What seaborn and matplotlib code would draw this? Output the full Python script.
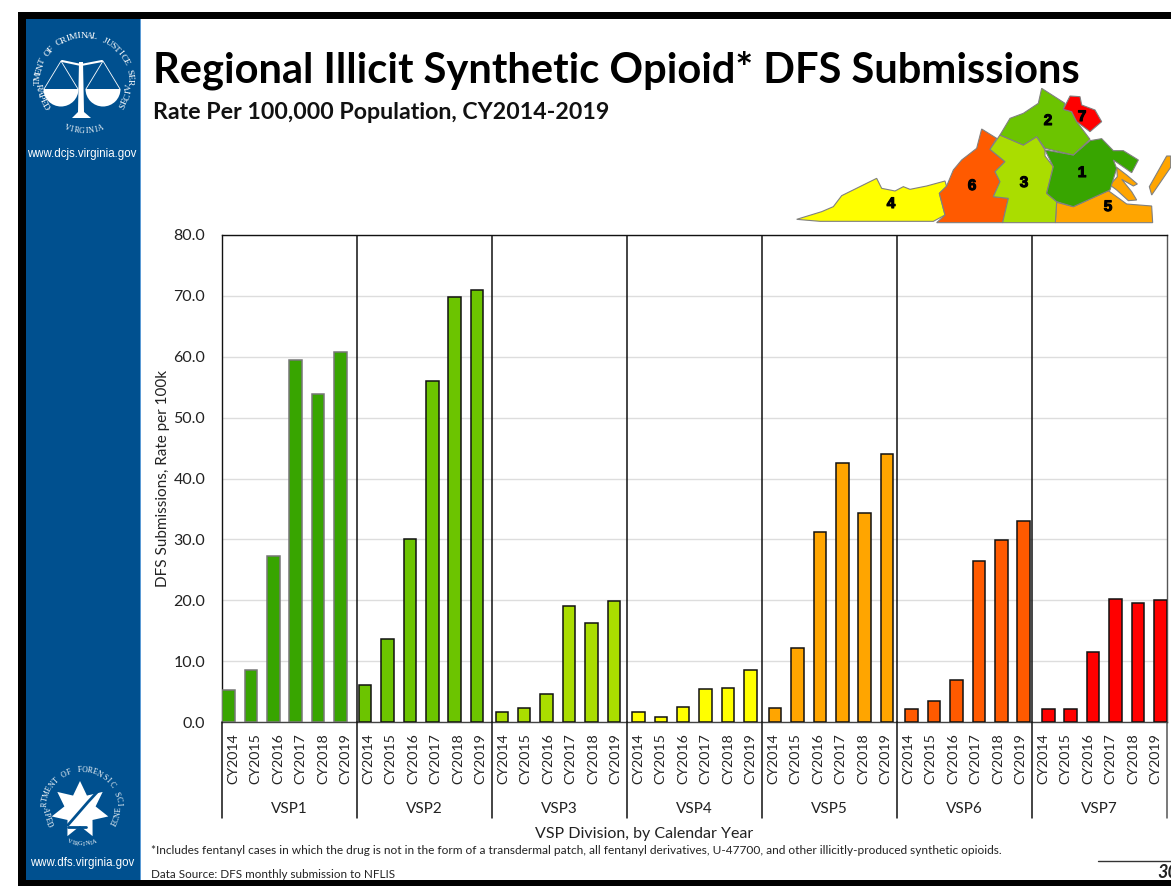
import numpy as np
import pandas as pd
import seaborn as sns
import matplotlib.pyplot as plt
import matplotlib.patheffects as pe
from matplotlib.patches import Polygon, Rectangle, Wedge

# Values
divisions = ["VSP1", "VSP2", "VSP3", "VSP4", "VSP5", "VSP6", "VSP7"]
years = ["CY2014", "CY2015", "CY2016", "CY2017", "CY2018", "CY2019"]
vsp1 = [5.2, 8.5, 27.3, 59.5, 53.8, 60.7]
vsp2 = [6.0, 13.6, 30.1, 56.0, 69.8, 71.0]
vsp3 = [1.6, 2.3, 4.6, 19.1, 16.3, 19.8]
vsp4 = [1.6, 0.9, 2.5, 5.5, 5.6, 8.5]
vsp5 = [2.3, 12.2, 31.2, 42.5, 34.4, 44.1]
vsp6 = [2.1, 3.4, 6.9, 26.4, 29.9, 33.1]
vsp7 = [2.1, 2.1, 11.5, 20.2, 19.6, 20.0]
colors = ["#38A500", "#6CC400", "#AADD00", "#FFFF00", "#FFA500", "#FF5A00", "#FF0000"]
yticks = [0, 10, 20, 30, 40, 50, 60, 70, 80]

# Map inset outlines, in zoomed crop pixels
map_4 = [(50, 418), (125, 395), (160, 380), (185, 347), (290, 295), (305, 325), (345, 333), (370, 320),
         (390, 328), (440, 318), (495, 303), (500, 320), (478, 340), (495, 405), (460, 424), (120, 424)]
map_6 = [(605, 147), (650, 175), (630, 208), (675, 245), (645, 275), (660, 305), (640, 350), (685, 355),
         (668, 428), (470, 428), (495, 405), (478, 340), (500, 318), (520, 270), (545, 240), (590, 205)]
map_3 = [(660, 165), (730, 195), (770, 170), (795, 210), (795, 228), (820, 260), (800, 340), (830, 365),
         (826, 428), (668, 428), (685, 355), (640, 350), (660, 305), (645, 275), (675, 245), (630, 208)]
map_2 = [(785, 25), (855, 70), (850, 88), (875, 95), (890, 125), (930, 178), (880, 225), (795, 205),
         (770, 170), (730, 195), (660, 165), (690, 115), (730, 100), (775, 70)]
map_7 = [(870, 48), (900, 50), (905, 75), (945, 90), (965, 125), (930, 155), (890, 125), (875, 95), (850, 88)]
map_1 = [(930, 182), (965, 176), (1000, 212), (1030, 212), (1075, 240), (1055, 278), (1000, 240), (1010, 265),
         (990, 330), (880, 380), (830, 365), (800, 340), (820, 260), (795, 210), (880, 225)]
map_5 = [(830, 367), (880, 380), (985, 332), (1040, 372), (1115, 378), (1118, 428), (826, 428)]
map_5b = [(1010, 262), (1040, 285), (1072, 312), (1060, 318), (1025, 298), (1055, 335), (1070, 360), (1045, 362),
          (1010, 330), (990, 315), (1012, 290)]
map_5c = [(1160, 228), (1172, 228), (1172, 262), (1115, 345), (1108, 320)]

df = pd.DataFrame({
    "division": np.repeat(divisions, len(years)),
    "year": years * len(divisions),
    "rate": vsp1 + vsp2 + vsp3 + vsp4 + vsp5 + vsp6 + vsp7,
})
# Bars step a little further at each new division, as in the original
df["slot"] = np.repeat(np.arange(len(divisions)), len(years)) * 6.1 + np.tile(np.arange(len(years)), len(divisions))

sns.set_theme(style="white")
plt.rcParams['font.family'] = ['Lato', 'DejaVu Sans']
W, H = 1171, 886
fig = plt.figure(figsize=(W / 100, H / 100), dpi=100, facecolor="white")


def px_to_slot(px):
    """Image x pixel to bar slot on the x axis."""
    return (px - 228.5) / 22.4


# Main chart
ax = fig.add_axes([222 / W, 1 - 722 / H, 945 / W, 487 / H])
sns.barplot(data=df, x="slot", y="rate", hue="division", palette=colors, dodge=False, native_scale=True,
            width=0.56, saturation=1, edgecolor="#111111", linewidth=1.1, legend=False, ax=ax, zorder=3)
for bar in ax.containers[0]:
    bar.set_edgecolor("#777777")
ax.set_xlim(px_to_slot(222), px_to_slot(1167))
ax.set_ylim(0, 80)
ax.set_yticks(yticks)
ax.set_yticklabels([f"{v:.1f}" for v in yticks], fontsize=11.5, color="#222222")
tick_px = [222 + 135 * g + 11.25 + 22.5 * j for g in range(len(divisions)) for j in range(len(years))]
ax.set_xticks(px_to_slot(np.array(tick_px)))
ax.set_xticklabels(df["year"], rotation=90, fontsize=10.2, color="#222222")
ax.tick_params(axis="x", length=0, pad=8)
ax.tick_params(axis="y", length=0, pad=12)
ax.yaxis.grid(True, color="#DDDDDD", linewidth=1)
ax.set_axisbelow(True)
ax.set_xlabel("")
ax.set_ylabel("DFS Submissions, Rate per 100k", fontsize=11, color="#222222")
ax.yaxis.set_label_coords(-52 / 945, 0.5)
for s in ax.spines.values():
    s.set_color("#111111")
    s.set_linewidth(1)
ax.spines["bottom"].set_color("#444444")
ax.spines["right"].set_color("#555555")

# Group dividers and labels under the axis
trans = ax.get_xaxis_transform()
for i, name in enumerate(divisions):
    left = px_to_slot(222 + 135 * i)
    if i > 0:
        ax.plot([left, left], [1, 0], transform=trans, color="#111111", lw=1.1, zorder=5)
    ax.plot([left, left], [0, -96 / 487], transform=trans, color="#111111", lw=1.1, clip_on=False, zorder=5)
    ax.text(px_to_slot(222 + 135 * i + 67.5), -87 / 487, name, transform=trans, ha="center", va="center",
            fontsize=11, color="#222222")
ax.plot([px_to_slot(1167)] * 2, [0, -96 / 487], transform=trans, color="#555555", lw=1.1, clip_on=False)
ax.text((644 - 222) / 945, -112 / 487, "VSP Division, by Calendar Year", transform=ax.transAxes, ha="center",
        va="center", fontsize=11.5, color="#222222")

# Overlay in image pixels for the page furniture
page = fig.add_axes([0, 0, 1, 1], zorder=-1)
page.set_xlim(0, W)
page.set_ylim(H, 0)
page.axis("off")
page.add_patch(Rectangle((18, 12), W - 18, 7, color="black", lw=0))
page.add_patch(Rectangle((18, 12), 8, H - 12, color="black", lw=0))
page.add_patch(Rectangle((18, 880), W - 18, 6, color="black", lw=0))
page.add_patch(Rectangle((26, 19), 114, 861, color="#00508F", lw=0))
page.add_patch(Rectangle((140, 19), 1, 861, color="#5B9BD5", lw=0))

page.text(153, 70, "Regional Illicit Synthetic Opioid* DFS Submissions", fontsize=30, fontweight="bold",
          color="black", va="center", ha="left")
page.text(153, 112, "Rate Per 100,000 Population, CY2014-2019", fontsize=16.7, fontweight="bold",
          color="#111111", va="center", ha="left")
page.text(151, 851, "*Includes fentanyl cases in which the drug is not in the form of a transdermal patch, "
          "all fentanyl derivatives, U-47700, and other illicitly-produced synthetic opioids.",
          fontsize=8.6, color="#222222", va="center", ha="left")
page.text(151, 874, "Data Source: DFS monthly submission to NFLIS", fontsize=8.4, color="#222222",
          va="center", ha="left")
page.plot([1098, W], [861, 861], color="#333333", lw=1)
page.text(1157, 873, "30", fontsize=13, fontweight="bold", fontstyle="italic", color="#222222",
          va="center", ha="left", clip_on=True)


def ring_text(text, cx, cy, r, start, stop, size):
    """Place letters one by one along a circle, angles in degrees clockwise from the top."""
    for ch, a in zip(text, np.linspace(start, stop, len(text))):
        t = np.radians(a)
        x, y = cx + r * np.sin(t), cy - r * np.cos(t)
        rot = -a if -90 <= a <= 90 else 180 - a
        page.text(x, y, ch, color="white", fontsize=size, rotation=rot, ha="center", va="center",
                  rotation_mode="anchor", family="Liberation Serif")


# DCJS seal
ring_text("DEPARTMENT OF CRIMINAL JUSTICE SERVICES", 84, 82, 46, -122, 122, 6.8)
ring_text("VIRGINIA", 84, 82, 49, 200, 160, 5.6)
page.add_patch(Polygon([(79, 62), (83, 62), (84, 112), (91, 118), (72, 118), (78, 112)], color="white", lw=0))
page.plot([62, 81, 102], [61, 65, 61], color="white", lw=1.5)
for px in (61, 103):
    page.add_patch(Wedge((px, 89), 17.5, 0, 180, color="white", lw=0))
    page.plot([px - 17, px, px + 17], [89, 61, 89], color="white", lw=0.6)
page.text(82, 154, "www.dcjs.virginia.gov", color="white", fontsize=8.3, ha="center", va="center",
          family="Liberation Sans")

# DFS seal
star_a = np.radians(np.arange(14) * 360 / 14)
star_r = np.where(np.arange(14) % 2 == 0, 29, 16)
page.add_patch(Polygon(np.c_[80 + star_r * np.sin(star_a), 810 - star_r * np.cos(star_a)], color="white", lw=0))
page.plot([68, 88, 100], [825, 802, 789], color="#00508F", lw=2)
page.plot([68, 86], [827, 827], color="#00508F", lw=2)
ring_text("DEPARTMENT OF FORENSIC SCIENCE", 82, 807, 37, -118, 118, 5.6)
ring_text("VIRGINIA", 82, 807, 37, 200, 160, 4.6)
page.text(82, 863, "www.dfs.virginia.gov", color="white", fontsize=8.3, ha="center", va="center",
          family="Liberation Sans")


# Virginia map inset, zoom crop pixels scaled back to the image
def map_part(points, color, edge="#808080"):
    pts = [(780 + x / 3, 80 + y / 3) for x, y in points]
    page.add_patch(Polygon(pts, facecolor=color, edgecolor=edge, lw=0.8))


for part, col in [(map_5, colors[4]), (map_5b, colors[4]), (map_5c, colors[4]), (map_4, colors[3]),
                  (map_6, colors[5]), (map_3, colors[2]), (map_1, colors[0]), (map_2, colors[1]),
                  (map_7, colors[6])]:
    map_part(part, col)
for label, (mx, my) in zip("1234567", [(1082, 173), (1048, 121), (1024, 183), (891, 204), (1108, 207),
                                       (972, 186), (1082, 117)]):
    page.text(mx, my, label, fontsize=11, fontweight="bold", color="black", ha="center", va="center",
              family="Liberation Sans", path_effects=[pe.withStroke(linewidth=0.8, foreground="black")])

fig.savefig("out.png", dpi=100)
